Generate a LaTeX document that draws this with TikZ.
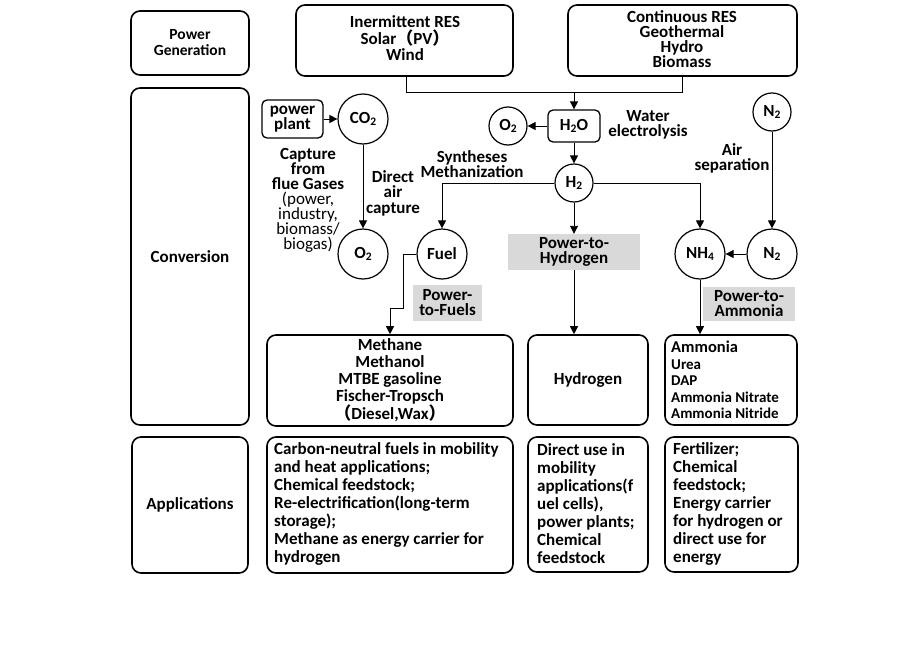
\documentclass[tikz,border=0pt]{standalone}
\usepackage{fontspec}
\setmainfont{Carlito}
\newfontfamily\cjk{Noto Sans CJK SC}
\usetikzlibrary{arrows.meta}
\definecolor{gbg}{HTML}{D9D9D9}
\newcommand\myfs[2]{\fontsize{#1}{#2}\selectfont}
\newcommand\chsub[1]{\raisebox{-2pt}{\myfs{11.5}{11.5}#1}}
\newcommand\lpar{{\cjk （}}
\newcommand\rpar{{\cjk ）}}
\begin{document}
\begin{tikzpicture}[x=1pt,y=-1pt,
 every node/.style={font=\bfseries\myfs{17}{16}},
 box/.style={draw,line width=1.6pt,rounded corners=9pt,inner sep=0pt},
 sbox/.style={draw,line width=1.3pt,rounded corners=5pt,inner sep=0pt},
 circ/.style={draw,circle,line width=1.2pt,minimum size=50pt,inner sep=0pt},
 scirc/.style={draw,circle,line width=1.2pt,minimum size=38pt,inner sep=0pt},
 gbox/.style={fill=gbg,inner sep=0pt,align=center,font=\bfseries\myfs{17}{15}},
 lbl/.style={align=center,font=\bfseries\myfs{17}{15}},
 arr/.style={line width=0.9pt,-{Triangle[length=8pt,width=8pt]}},
 ln/.style={line width=0.9pt}]
\useasboundingbox (0,0) rectangle (901,669);

% row labels
\node[box,minimum width=118pt,minimum height=64pt,align=center,font=\bfseries\myfs{15.5}{16}] (pg) at (190,43) {Power\\Generation};
\node[box,minimum width=118pt,minimum height=337pt] (cv) at (190,256.5) {Conversion};
\node[box,minimum width=116pt,minimum height=136pt] (ap) at (190,505) {Applications};

% power generation
\node[box,minimum width=217pt,minimum height=71pt] (irs) at (404.5,40.5) {};
\node[align=center,font=\bfseries\myfs{17}{16.5}] (irst) at (405,38.5) {Inermittent RES\\Solar\lpar PV\rpar\\Wind};
\node[box,minimum width=229pt,minimum height=71pt] (crs) at (682.5,40.5) {};
\node[lbl] (crst) at (682,39.5) {Continuous RES\\Geothermal\\Hydro\\Biomass};

% conversion
\node[sbox,minimum width=61pt,minimum height=38pt,lbl] (pp) at (292.5,119) {power\\plant};
\node[circ] (co2) at (363,119) {CO\chsub{2}};
\node[circ] (o2b) at (363,254) {O\chsub{2}};
\node[circ] (fuel) at (442,254) {Fuel};
\node[sbox,minimum width=52pt,minimum height=32pt] (h2o) at (574,126) {H\chsub{2}O};
\node[scirc] (o2a) at (508,126) {O\chsub{2}};
\node[scirc] (h2) at (574,183) {H\chsub{2}};
\node[scirc] (n2a) at (772,112) {N\chsub{2}};
\node[circ] (n2b) at (772,254) {N\chsub{2}};
\node[circ] (nh4) at (700,254) {NH\chsub{4}};

\node[lbl] (capt) at (308,200.5) {Capture\\from\\flue Gases\\\mdseries(power,\\\mdseries industry,\\\mdseries biomass/\\\mdseries biogas)};
\node[align=center,font=\bfseries\myfs{17}{15.5}] (dac) at (393,193) {Direct\\air\\capture};
\node[lbl] (synth) at (472,164.5) {Syntheses\\Methanization};
\node[lbl] (we) at (648,125) {Water\\electrolysis};
\node[lbl] (airs) at (732,158.5) {Air\\separation};

\node[gbox,minimum width=132pt,minimum height=36pt] (p2h) at (574,252) {Power-to-\\Hydrogen};
\node[gbox,minimum width=69pt,minimum height=36pt] (p2f) at (447.5,303) {Power-\\to-Fuels};
\node[gbox,minimum width=92pt,minimum height=34pt] (p2a) at (749,304) {Power-to-\\Ammonia};

% product boxes
\node[box,minimum width=246pt,minimum height=91pt,align=center,font=\bfseries\myfs{17}{17}] (fb) at (390,380.5) {Methane\\Methanol\\MTBE gasoline\\Fischer-Tropsch\\\lpar Diesel,Wax\rpar};
\node[box,minimum width=120pt,minimum height=90pt] (hb) at (588,380) {Hydrogen};
\node[box,minimum width=132pt,minimum height=90pt] (ab) at (731,380) {};
\node[anchor=west,align=left,inner sep=0pt,font=\bfseries\myfs{15}{16.5}] (abt) at (671,380) {{\myfs{16.5}{17}Ammonia}\\Urea\\DAP\\Ammonia Nitrate\\Ammonia Nitride};

% application boxes
\node[box,minimum width=246pt,minimum height=136pt] (fa) at (390,505) {};
\node[anchor=west,align=left,inner sep=0pt,font=\bfseries\myfs{17}{18}] (fat) at (274,504) {Carbon-neutral fuels in mobility\\and heat applications;\\Chemical feedstock;\\Re-electrification(long-term\\storage);\\Methane as energy carrier for\\hydrogen};
\node[box,minimum width=120pt,minimum height=135pt] (ha) at (588,504.5) {};
\node[anchor=west,align=left,inner sep=0pt,font=\bfseries\myfs{17}{18}] (hat) at (537,504) {Direct use in\\mobility\\applications(f\\uel cells),\\power plants;\\Chemical\\feedstock};
\node[box,minimum width=133pt,minimum height=135pt] (aa) at (731.5,504.5) {};
\node[anchor=west,align=left,inner sep=0pt,font=\bfseries\myfs{17}{18}] (aat) at (673,504) {Fertilizer;\\Chemical\\feedstock;\\Energy carrier\\for hydrogen or\\direct use for\\energy};

% connectors
\draw[ln] ([xshift=1.5pt]irs.south) -- ++(0,16) -| (crs.south);
\coordinate (j) at (574,92);
\draw[arr] (j) -- (h2o.north);
\draw[arr] (pp.east) -- (co2.west);
\draw[arr] (co2.south) -- (o2b.north);
\draw[arr] (h2o.west) -- (o2a.east);
\draw[arr] (h2o.south) -- (h2.north);
\draw[arr] (h2.west) -| (fuel.north);
\draw[arr] (h2.east) -| (nh4.north);
\draw[arr] (h2.south) -- (p2h.north);
\draw[arr] (p2h.south) -- (p2h.south |- hb.north);
\draw[arr] (n2a.south) -- (n2b.north);
\draw[arr] (n2b.west) -- (nh4.east);
\draw[arr] (nh4.south) -- (nh4.south |- ab.north);
\draw[arr] (fuel.west) -| (403,308) -| (fb.north);
\end{tikzpicture}
\end{document}
